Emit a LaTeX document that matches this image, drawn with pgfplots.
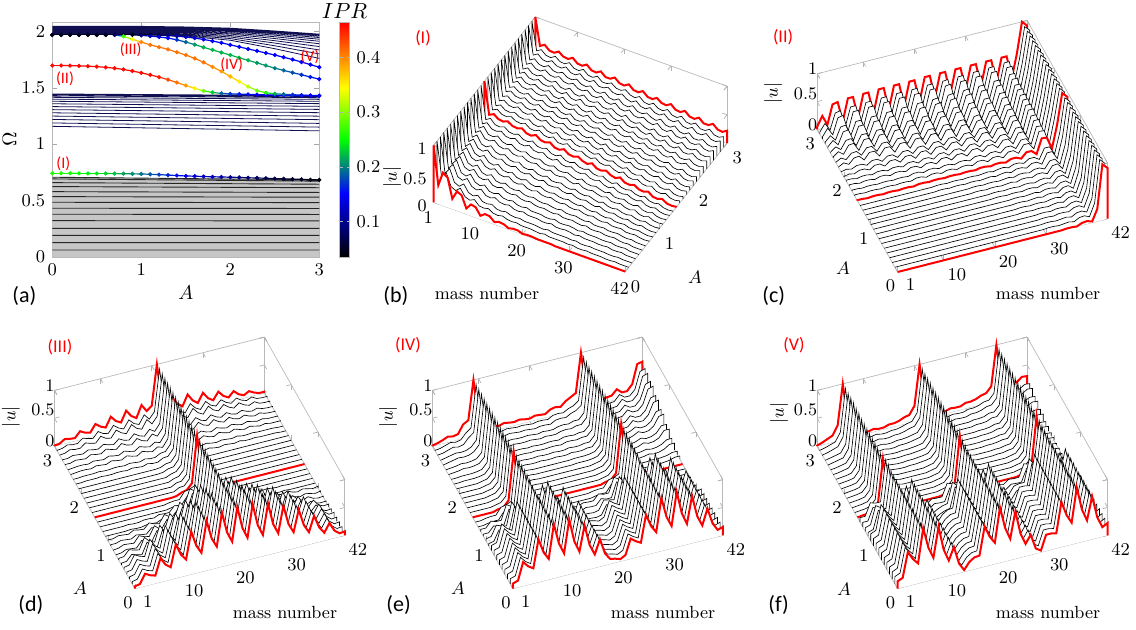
\documentclass[border=0pt]{standalone}
\usepackage{pgfplots}
\usepackage{pgfplotstable}
\pgfplotsset{compat=1.18}
\usepackage{fontspec}
\newfontfamily\carlito{Carlito}
\definecolor{bandnavy}{rgb}{0.06,0.06,0.32}

% ---------- waterfall data: one row per estimated profile s0..s16, |u| in percent, padded with 0 at both ends
\pgfplotstableread[header=false]{
s0 0  100 33 58 52 18 34 30 10 20 18  6 12 11 4 7 6 2 4 4 1  2 2 1 1 1 1 0 0 0 0  0 0 0 0 0 0 0 0 0 0 0 0  0
s1 0  100 39 50 29 25 32 20 17 21 13  12 14 9 8 10 7 6 7 5 5  5 4 3 5 3 3 3 3 2 3  1 1 2 1 1 1 0 0 1 0 0 0  0
s2 0  100 40 50 31 28 34 23 20 24 16  15 18 13 12 14 10 9 11 8 8  8 6 6 8 5 5 6 5 3 5  3 3 3 2 2 3 1 1 2 0 0 0  0
s3 0  100 40 49 33 30 35 25 23 27 19  18 21 16 15 17 13 12 14 11 10  11 9 8 10 7 7 8 6 5 7  4 4 5 3 3 4 2 1 2 0 0 0  0
s4 0  100 41 49 35 32 37 28 26 30 23  22 25 19 18 21 16 15 18 14 13  15 12 11 13 10 9 11 8 7 9  6 5 7 4 4 5 2 2 3 1 0 1  0
s5 0  100 42 49 36 34 39 31 29 32 26  25 28 22 21 24 19 18 21 16 16  18 14 13 16 12 11 13 10 8 11  7 6 8 5 4 6 3 2 4 1 0 1  0
s6 0  100 43 49 38 37 41 34 32 35 29  28 31 26 25 27 22 21 24 19 19  21 17 15 19 14 13 15 12 10 13  8 8 10 6 5 8 3 2 5 1 0 1  0
s7 0  100 43 48 40 39 42 36 35 38 32  31 35 29 28 31 25 24 28 22 21  24 19 18 21 16 15 18 13 11 15  10 9 11 7 6 9 4 3 5 1 0 1  0
s8 0  100 44 48 42 41 44 39 38 41 35  34 38 32 31 34 28 27 31 25 24  27 22 20 24 18 17 20 15 13 17  11 10 13 8 7 10 4 3 6 1 0 1  0
s9 0  100 45 49 43 42 45 40 39 42 36  35 39 33 32 36 29 29 33 27 26  29 24 22 26 20 19 22 17 15 19  13 12 15 10 9 12 6 5 8 3 2 4  0
s10 0  100 46 50 44 43 47 41 40 44 38  37 41 35 34 37 31 30 34 28 27  31 25 23 28 21 20 24 19 17 21  15 14 17 12 11 14 8 7 11 5 4 6  0
s11 0  100 47 51 45 44 48 42 41 45 39  38 42 36 35 39 32 32 36 30 29  32 27 25 29 23 22 26 20 19 23  17 16 19 14 13 16 10 9 13 7 6 9  0
s12 0  100 48 53 46 45 49 44 43 47 40  39 44 37 36 40 34 33 38 31 30  34 28 27 31 25 24 28 22 21 25  19 18 22 16 15 19 12 12 16 10 9 12  0
s13 0  100 49 54 47 46 50 45 44 48 41  40 45 38 37 42 35 35 39 33 32  36 30 28 33 26 25 29 24 22 27  20 19 24 17 16 21 14 14 18 12 11 14  0
s14 0  100 50 55 48 47 52 46 45 49 43  42 46 40 39 43 36 36 41 34 33  38 31 30 35 28 27 31 26 24 29  22 21 26 19 18 23 16 16 20 14 13 17  0
s15 0  100 51 56 49 48 53 47 46 51 44  43 48 41 40 45 38 38 42 36 35  39 33 31 36 29 28 33 27 26 31  24 23 28 21 20 25 18 18 23 16 15 19  0
s16 0  100 52 57 50 49 54 48 47 52 45  44 49 42 41 46 39 39 44 37 36  41 34 33 38 31 30 35 29 28 33  26 25 30 23 22 27 20 20 25 18 17 22  0
}\rawB
\pgfplotstableread[header=false]{
s0 0  0 0 0 0 0 0 0 0 0 0  0 0 0 0 0 0 0 0 0 0  0 0 0 0 0 0 0 0 0 0  0 0 0 1 1 0 4 5 2 22 100 91  0
s1 0  0 0 0 0 0 0 0 0 0 0  0 0 0 0 0 0 0 0 0 0  0 0 0 0 0 0 0 0 0 0  1 1 0 1 2 0 5 6 2 24 100 91  0
s2 0  0 0 0 0 0 0 0 0 0 0  0 0 0 0 0 0 0 0 0 0  0 0 0 0 0 0 0 0 0 0  1 1 0 2 2 1 6 7 2 25 100 91  0
s3 0  0 0 0 0 0 0 0 0 0 0  0 0 0 0 0 0 0 0 0 0  0 0 0 0 0 0 0 1 1 0  1 1 0 2 3 1 7 8 2 27 100 91  0
s4 0  0 0 0 0 0 0 0 0 0 0  0 0 0 0 0 0 0 0 0 0  0 0 0 0 0 0 0 1 1 0  1 2 0 3 3 1 8 9 2 29 100 91  0
s5 0  0 0 0 0 0 0 0 0 0 0  0 0 0 0 0 0 0 0 0 0  0 0 0 0 1 1 0 1 1 0  2 2 0 3 4 1 10 11 3 32 100 91  0
s6 0  0 0 0 0 0 0 0 0 0 0  0 0 0 0 0 0 0 0 0 0  0 1 1 0 1 1 0 1 2 0  3 3 1 5 5 1 13 14 3 35 100 91  0
s7 0  0 0 0 0 0 0 0 0 0 0  0 0 0 0 0 1 1 0 1 1  0 1 1 0 1 2 0 2 3 0  4 4 1 7 7 1 19 19 4 40 100 91  0
s8 0  1 1 0 1 1 0 1 1 0 1  1 0 2 2 1 2 2 1 2 2  1 2 2 1 3 3 1 3 3 1  5 5 1 10 10 2 28 27 5 45 100 91  0
s9 0  2 2 1 2 2 1 2 2 1 2  2 1 4 4 1 4 4 1 4 4  1 4 4 1 6 6 1 6 6 1  9 9 2 15 15 3 32 31 5 48 100 91  0
s10 0  3 3 1 3 3 1 4 4 1 4  4 1 6 6 1 6 6 1 8 8  1 8 8 1 10 10 2 10 10 2  13 13 2 19 19 3 34 34 5 48 100 91  0
s11 0  1 3 1 5 5 1 7 7 1 8  8 1 9 9 1 10 10 1 11 11  2 12 12 2 13 13 2 15 15 2  17 17 2 23 23 3 36 36 5 48 100 91  0
s12 0  1 6 1 10 11 2 13 13 2 14  14 2 15 15 2 16 16 2 17 17  2 18 18 2 19 19 2 20 21 2  22 22 3 26 26 3 37 37 5 47 100 91  0
s13 0  2 9 2 16 17 2 19 19 2 20  20 2 21 21 2 22 22 3 23 23  3 24 24 3 25 25 3 26 26 3  27 27 3 30 30 3 38 38 4 46 100 91  0
s14 0  3 12 2 23 24 3 26 26 3 27  27 3 28 28 3 29 29 3 30 30  3 30 31 3 31 32 3 32 33 3  33 33 3 35 35 3 40 40 4 46 100 91  0
s15 0  4 17 3 31 33 3 35 35 3 36  36 3 37 37 3 38 38 3 38 38  3 39 39 3 39 40 3 40 40 3  41 41 3 42 42 3 44 44 3 45 100 91  0
s16 0  5 22 4 38 40 3 42 42 3 43  43 3 44 44 3 44 44 3 44 44  3 45 45 3 45 45 3 45 45 3  45 45 3 45 45 3 45 45 3 45 100 91  0
}\rawC
\pgfplotstableread[header=false]{
s0 0  4 6 22 17 14 43 29 22 61 40  29 77 49 34 89 55 38 97 59 40  100 60 40 98 58 38 92 53 34 81  46 29 67 37 22 49 26 14 29 13 6 7  0
s1 0  4 6 22 17 14 43 29 22 61 40  29 77 49 34 89 55 38 97 59 40  100 60 40 98 58 38 92 53 34 81  46 29 67 37 22 49 26 14 29 13 6 7  0
s2 0  4 6 22 17 14 43 29 22 61 40  29 77 49 34 89 55 38 97 59 40  100 60 40 98 58 38 92 53 34 81  46 29 67 37 22 49 26 14 29 13 6 7  0
s3 0  3 4 14 11 9 29 20 16 44 29  22 59 39 28 74 47 34 88 55 39  100 58 38 89 51 33 76 43 27 62  35 21 48 26 15 33 17 9 19 8 4 5  0
s4 0  1 2 6 5 4 15 11 9 26 18  14 41 28 21 58 39 29 78 51 37  100 56 35 79 44 27 60 32 19 43  23 13 28 15 8 17 8 4 8 3 1 2  0
s5 0  2 2 5 4 3 8 6 5 14 10  8 22 16 12 37 26 21 61 43 34  100 51 29 61 31 17 37 19 11 22  11 6 14 7 4 8 4 2 5 3 1 3  0
s6 0  0 0 0 0 0 1 0 0 2 2  1 5 4 4 14 11 11 37 31 29  100 43 21 37 16 8 14 6 3 5  2 1 2 1 0 1 0 0 0 0 0 0  0
s7 0  0 0 0 0 0 0 0 0 0 0  0 0 0 0 2 3 3 15 17 21  100 32 11 15 5 2 2 0 0 0  0 0 0 0 0 0 0 0 0 0 0 0  0
s8 0  0 0 0 0 0 0 0 0 0 0  0 0 0 0 0 0 1 5 7 17  100 24 8 5 2 1 1 0 0 0  0 0 0 0 0 0 0 0 0 0 0 0  0
s9 0  0 0 0 0 0 0 0 0 0 0  0 0 0 0 0 0 0 5 6 16  100 23 7 5 1 0 0 0 0 0  0 0 0 0 0 0 0 0 0 0 0 0  0
s10 0  0 0 0 0 0 0 0 0 0 0  0 0 0 0 0 0 0 4 6 16  100 23 7 5 1 0 0 0 0 0  0 0 0 0 0 0 0 0 0 0 0 0  0
s11 0  0 0 0 0 0 0 0 0 0 0  0 0 0 0 0 0 1 5 6 17  100 24 8 6 2 0 0 0 0 0  0 0 0 0 0 0 0 0 0 0 0 0  0
s12 0  0 0 1 1 1 2 1 1 2 2  1 3 2 1 4 2 2 7 8 19  100 26 9 8 3 2 4 2 1 3  2 1 3 1 1 2 1 1 1 1 0 0  0
s13 0  0 1 2 2 1 4 3 2 6 4  3 8 5 3 9 6 4 10 7 20  100 25 8 10 6 4 9 5 3 8  5 3 7 4 2 5 3 1 3 1 1 1  0
s14 0  1 1 4 3 2 7 5 4 10 7  5 13 8 6 15 9 6 16 10 22  100 26 9 17 10 6 16 9 6 14  8 5 11 6 4 8 4 2 5 2 1 1  0
s15 0  1 2 6 4 4 11 8 6 16 10  8 20 13 9 23 14 10 25 15 26  100 28 10 25 15 10 24 14 9 21  12 8 17 10 6 13 7 4 8 3 2 2  0
s16 0  1 2 8 6 5 15 10 8 21 14  10 27 17 12 31 19 13 34 21 28  100 30 14 34 20 13 32 19 12 28  16 10 23 13 8 17 9 5 10 5 2 2  0
}\rawD
\pgfplotstableread[header=false]{
s0 0  9 12 43 33 27 77 51 37 97 60  40 98 57 36 81 43 24 49 21 9  7 4 9 36 29 24 72 49 36 95  59 40 99 58 37 85 46 27 55 26 12 15  0
s1 0  9 12 43 33 27 77 51 37 97 60  40 98 57 36 81 43 24 49 21 9  7 4 9 36 29 24 72 49 36 95  59 40 99 58 37 85 46 27 55 26 12 15  0
s2 0  9 12 43 33 27 77 51 37 97 60  40 98 57 36 81 43 24 49 21 9  7 4 9 36 29 24 72 49 36 95  59 40 99 58 37 85 46 27 55 26 12 15  0
s3 0  9 12 43 33 27 77 51 37 97 60  40 98 57 36 81 43 24 49 21 9  7 4 9 36 29 24 72 49 36 95  59 40 99 58 37 85 46 27 55 26 12 15  0
s4 0  9 12 43 33 27 77 51 37 97 60  40 98 57 36 81 43 24 49 21 9  7 4 9 36 29 24 72 49 36 95  59 40 99 58 37 85 46 27 55 26 12 15  0
s5 0  4 6 24 20 18 59 43 34 100 56  34 75 39 23 46 22 11 21 8 3  3 2 4 20 18 16 55 41 34 98  55 34 75 40 23 48 24 12 23 10 4 5  0
s6 0  4 4 14 11 11 37 31 29 100 43  21 37 16 8 14 6 3 5 2 1  5 4 4 14 11 11 37 31 29 100  43 21 37 16 8 14 6 3 5 2 1 2  0
s7 0  0 0 2 3 3 15 17 21 100 32  11 15 5 2 2 0 0 0 0 0  0 0 0 2 3 3 15 17 21 100  32 11 15 5 2 2 0 0 0 0 0 0  0
s8 0  0 0 0 0 0 3 4 14 100 30  12 12 4 2 2 0 0 0 0 0  0 0 0 0 0 0 3 4 14 100  30 12 12 4 2 2 0 0 0 0 0 0  0
s9 0  0 0 0 0 0 2 4 13 100 28  11 10 3 1 1 0 0 0 0 0  0 0 0 0 0 0 2 4 13 100  28 11 10 3 1 1 2 1 2 3 6 6  0
s10 0  0 0 0 0 0 2 4 13 100 26  10 9 3 1 1 0 0 0 0 0  0 0 0 0 0 0 2 4 13 100  26 10 9 3 1 2 4 2 3 6 12 12  0
s11 0  0 0 0 0 0 2 4 13 100 26  10 9 3 1 1 0 0 0 0 0  0 0 0 1 1 1 2 4 13 100  26 10 9 3 1 3 7 4 5 9 20 20  0
s12 0  0 0 1 1 1 2 4 14 100 27  11 10 3 1 2 1 1 2 1 1  2 1 1 3 2 2 4 4 14 100  27 11 10 3 2 5 10 6 7 13 28 30  0
s13 0  0 1 2 4 3 4 6 15 100 29  11 10 4 2 3 3 2 3 2 2  3 3 2 5 5 4 6 6 15 100  29 11 10 4 3 4 13 8 8 16 36 38  0
s14 0  0 2 4 6 5 6 10 20 100 30  10 10 5 4 5 4 4 5 4 3  5 4 4 7 8 7 10 10 20 100  30 10 10 4 5 6 15 9 9 18 43 46  0
s15 0  1 2 5 8 6 8 18 25 100 30  10 11 6 5 7 6 5 6 5 4  6 6 5 10 11 10 15 18 25 100  30 11 11 5 6 7 17 10 10 19 49 52  0
s16 0  1 3 6 10 8 10 25 30 100 30  10 12 8 6 9 7 6 8 6 5  8 7 6 12 14 12 20 25 30 100  30 12 12 6 8 9 18 10 10 20 54 56  0
}\rawE
\pgfplotstableread[header=false]{
s0 0  13 17 61 46 36 97 60 39 92 49  27 49 17 3 15 21 22 72 51 38  99 60 38 85 43 22 36 9 3 29  29 27 81 55 39 100 58 36 77 37 17 22  0
s1 0  13 17 61 46 36 97 60 39 92 49  27 49 17 3 15 21 22 72 51 38  99 60 38 85 43 22 36 9 3 29  29 27 81 55 39 100 58 36 77 37 17 22  0
s2 0  13 17 61 46 36 97 60 39 92 49  27 49 17 3 15 21 22 72 51 38  99 60 38 85 43 22 36 9 3 29  29 27 81 55 39 100 58 36 77 37 17 22  0
s3 0  13 17 61 46 36 97 60 39 92 49  27 49 17 3 15 21 22 72 51 38  99 60 38 85 43 22 36 9 3 29  29 27 81 55 39 100 58 36 77 37 17 22  0
s4 0  13 17 61 46 36 97 60 39 92 49  27 49 17 3 15 21 22 72 51 38  99 60 38 85 43 22 36 9 3 29  29 27 81 55 39 100 58 36 77 37 17 22  0
s5 0  13 17 61 46 36 97 60 39 92 49  27 49 17 3 15 21 22 72 51 38  99 60 38 85 43 22 36 9 3 29  29 27 81 55 39 100 58 36 77 37 17 22  0
s6 0  7 10 42 36 32 97 53 30 63 30  14 23 7 1 7 11 13 49 40 34  99 53 30 58 26 12 17 4 1 14  16 16 56 43 34 100 51 28 53 22 9 10  0
s7 0  8 8 30 27 27 100 40 18 30 12  5 9 4 2 9 8 8 30 27 27  100 40 18 30 12 5 9 4 2 9  8 8 30 27 27 100 40 18 30 12 5 9  0
s8 0  0 1 2 4 14 94 30 12 12 4  2 0 0 0 0 0 0 2 4 14  100 30 12 12 4 2 0 0 0 0  0 0 2 4 14 100 30 12 12 4 2 1  0
s9 0  0 1 2 4 14 95 30 12 12 4  2 0 0 0 0 0 0 2 4 14  100 30 12 12 4 2 0 0 0 0  0 0 2 4 14 100 30 12 12 4 3 2  0
s10 0  0 1 2 4 14 96 30 12 12 4  2 0 0 0 0 0 0 2 4 14  100 30 12 12 4 2 0 0 0 0  0 0 2 4 14 100 30 12 12 5 4 3  0
s11 0  0 1 2 4 14 96 30 12 12 4  2 0 0 0 0 0 0 2 4 14  100 30 12 12 4 2 0 0 0 0  1 1 3 4 14 100 30 12 12 6 6 5  0
s12 0  0 1 2 4 15 96 30 12 12 4  2 1 0 0 1 1 2 3 5 15  100 30 12 12 4 2 1 1 1 2  2 3 5 5 15 100 30 12 12 8 9 8  0
s13 0  0 1 3 5 17 98 30 12 11 4  2 2 1 1 2 2 3 4 6 17  100 30 12 11 4 2 2 2 2 3  3 4 7 7 17 100 30 13 13 12 14 13  0
s14 0  0 2 4 6 20 100 30 12 11 4  2 3 1 1 3 3 4 6 8 20  100 30 12 11 4 2 3 3 3 5  5 6 10 10 20 100 30 14 14 16 20 19  0
s15 0  1 3 6 9 24 100 30 12 10 4  2 4 2 2 4 4 6 9 11 24  100 30 12 10 4 3 5 4 4 7  7 9 13 14 24 100 30 15 16 20 26 25  0
s16 0  1 4 8 12 28 100 30 12 10 4  3 5 3 3 6 6 8 12 14 28  100 30 12 10 5 4 7 6 6 10  10 12 16 18 28 100 30 16 18 24 31 30  0
}\rawF
\pgfplotstabletranspose[colnames from=0]{\TB}{\rawB}
\pgfplotstabletranspose[colnames from=0]{\TC}{\rawC}
\pgfplotstabletranspose[colnames from=0]{\TD}{\rawD}
\pgfplotstabletranspose[colnames from=0]{\TE}{\rawE}
\pgfplotstabletranspose[colnames from=0]{\TF}{\rawF}

% ---------- panel (a) data
\pgfplotstableread{
A W P
0 .742 .26
.1 .742 .26
.2 .742 .255
.3 .741 .25
.4 .741 .245
.5 .740 .24
.6 .740 .235
.7 .739 .225
.8 .738 .215
.9 .737 .205
1 .736 .195
1.1 .733 .185
1.2 .730 .175
1.3 .726 .165
1.4 .722 .155
1.5 .718 .145
1.6 .716 .135
1.7 .713 .125
1.8 .711 .118
1.9 .709 .11
2 .707 .10
2.1 .705 .092
2.2 .702 .085
2.3 .700 .078
2.4 .698 .072
2.5 .695 .066
2.6 .693 .06
2.7 .690 .055
2.8 .688 .05
2.9 .685 .046
3 .683 .042
}\tI
\pgfplotstableread{
A W P
0 1.697 .46
.1 1.697 .46
.2 1.696 .46
.3 1.694 .46
.4 1.691 .46
.5 1.687 .46
.6 1.681 .46
.7 1.673 .46
.8 1.662 .46
.9 1.648 .46
1 1.632 .46
1.1 1.614 .46
1.2 1.594 .45
1.3 1.572 .43
1.4 1.546 .41
1.5 1.520 .39
1.6 1.495 .35
1.7 1.472 .29
1.8 1.458 .23
1.9 1.450 .19
2 1.446 .17
2.1 1.443 .16
2.2 1.441 .155
2.3 1.439 .15
2.4 1.437 .15
2.5 1.435 .15
2.6 1.433 .15
2.7 1.432 .148
2.8 1.431 .146
2.9 1.430 .145
3 1.428 .145
}\tII
\pgfplotstableread{
A W P
0 1.969 .05
.1 1.969 .05
.2 1.969 .05
.3 1.969 .05
.4 1.969 .05
.5 1.969 .05
.6 1.969 .05
.7 1.969 .08
.8 1.955 .27
.9 1.930 .34
1 1.905 .40
1.1 1.880 .41
1.2 1.860 .41
1.3 1.840 .41
1.4 1.815 .41
1.5 1.790 .41
1.6 1.760 .41
1.7 1.725 .41
1.8 1.685 .40
1.9 1.645 .39
2 1.600 .38
2.1 1.555 .35
2.2 1.510 .32
2.3 1.475 .29
2.4 1.455 .26
2.5 1.447 .22
2.6 1.442 .19
2.7 1.438 .17
2.8 1.435 .16
2.9 1.432 .15
3 1.430 .15
}\tIII
\pgfplotstableread{
A W P
0 1.969 .05
.1 1.969 .05
.2 1.969 .05
.3 1.969 .05
.4 1.969 .05
.5 1.969 .05
.6 1.969 .05
.7 1.969 .05
.8 1.969 .05
.9 1.969 .05
1 1.964 .09
1.1 1.958 .12
1.2 1.950 .14
1.3 1.940 .15
1.4 1.925 .17
1.5 1.905 .19
1.6 1.882 .21
1.7 1.858 .22
1.8 1.835 .22
1.9 1.812 .22
2 1.790 .22
2.1 1.766 .22
2.2 1.743 .22
2.3 1.720 .21
2.4 1.697 .21
2.5 1.673 .20
2.6 1.654 .19
2.7 1.634 .18
2.8 1.615 .17
2.9 1.595 .16
3 1.576 .15
}\tIV
\pgfplotstableread{
A W P
0 1.969 .05
.1 1.969 .05
.2 1.969 .05
.3 1.969 .05
.4 1.969 .05
.5 1.969 .05
.6 1.969 .05
.7 1.969 .05
.8 1.969 .05
.9 1.969 .05
1 1.969 .05
1.1 1.969 .05
1.2 1.966 .07
1.3 1.962 .09
1.4 1.957 .11
1.5 1.950 .12
1.6 1.940 .13
1.7 1.928 .14
1.8 1.914 .14
1.9 1.898 .15
2 1.880 .15
2.1 1.862 .15
2.2 1.844 .15
2.3 1.826 .15
2.4 1.808 .15
2.5 1.790 .15
2.6 1.770 .15
2.7 1.750 .15
2.8 1.728 .15
2.9 1.705 .15
3 1.682 .15
}\tV
% band lines (nan separates lines)
\pgfplotstableread{
A W
0 .707
3 .683
nan nan
0 .692
3 .672
nan nan
0 .659
3 .645
nan nan
0 .624
3 .614
nan nan
0 .579
3 .572
nan nan
0 .535
3 .530
nan nan
0 .485
3 .482
nan nan
0 .432
3 .430
nan nan
0 .379
3 .377
nan nan
0 .322
3 .320
nan nan
0 .254
3 .253
nan nan
0 .192
3 .191
nan nan
0 .127
3 .127
nan nan
0 .062
3 .062
}\tLow
\pgfplotstableread{
A W
0 1.445
3 1.430
nan nan
0 1.438
3 1.422
nan nan
0 1.428
3 1.412
nan nan
0 1.415
3 1.397
nan nan
0 1.399
3 1.380
nan nan
0 1.380
3 1.359
nan nan
0 1.358
3 1.335
nan nan
0 1.333
3 1.308
nan nan
0 1.306
3 1.279
nan nan
0 1.278
3 1.248
nan nan
0 1.249
3 1.217
nan nan
0 1.219
3 1.184
nan nan
0 1.188
3 1.151
nan nan
0 1.158
3 1.118
}\tMid
\pgfplotstableread{
A W
0 2.045
1 2.044
1.5 2.039
2 2.028
2.5 2.003
3 1.975
nan nan
0 2.040
1 2.039
1.5 2.034
2 2.022
2.5 1.997
3 1.968
nan nan
0 2.034
1 2.032
1.5 2.028
2 2.015
2.5 1.988
3 1.958
nan nan
0 2.027
1 2.025
1.5 2.020
2 2.007
2.5 1.978
3 1.945
nan nan
0 2.020
1 2.018
1.5 2.013
2 1.998
2.5 1.966
3 1.930
nan nan
0 2.012
1 2.010
1.5 2.004
2 1.987
2.5 1.952
3 1.912
nan nan
0 2.004
1 2.002
1.5 1.995
2 1.976
2.5 1.936
3 1.890
nan nan
0 1.996
1 1.993
1.5 1.986
2 1.963
2.5 1.917
3 1.865
nan nan
0 1.988
1 1.985
1.5 1.976
2 1.950
2.5 1.896
3 1.835
nan nan
0 1.981
1 1.977
1.5 1.967
2 1.936
2.5 1.872
3 1.800
nan nan
0 1.975
1 1.971
1.5 1.958
2 1.921
2.5 1.846
3 1.760
}\tTop

\pgfplotsset{
 wf/.style={draw=black, line width=0.32pt, fill=white, mark=none},
 wfr0/.style={draw=red, line width=1pt},
 wfr15/.style={draw=red, line width=1pt},
 wfr30/.style={draw=red, line width=1pt},
 wfaxis/.style={
   xmin=1,xmax=42,ymin=0,ymax=3,zmin=0,zmax=100,
   xtick={1,10,20,30,42}, ytick={0,1,2,3}, ztick={0,50,100}, zticklabels={0,0.5,1},
   anchor=origin, clip=false,
   axis line style={gray!55, line width=0.35pt},
   tick style={gray!60, line width=0.35pt},
   major tick length=2.5pt,
   ticklabel style={font=\fontsize{8.8}{10}\selectfont},
 },
 vcd/.style={x={(2.56pt,0.65pt)}, y={(-13.4pt,23.75pt)}, z={(0pt,0.2785pt)},
   xticklabel style={xshift=4.5pt, yshift=1pt},
   yticklabel style={xshift=2pt},
   zticklabel style={xshift=3.5pt}},
 curve/.style={mesh, point meta=explicit, line width=0.6pt, mark=none},
 dots/.style={scatter, only marks, mark=*, mark size=0.85pt, point meta=explicit,
   scatter/use mapped color={draw=mapped color, fill=mapped color}},
}
% one slice: #1 table, #2 slice number k (A = 0.1 k), #3 estimated profile used for it
\newcommand\wfslice[3]{%
  \addplot3[wf, wfr#2/.try] table[x expr={min(max(\coordindex,1),42)}, y expr={#2*0.1}, z=s#3] {#1};}
\newcommand\wfall[1]{%
\wfslice{#1}{30}{16}\wfslice{#1}{29}{15}\wfslice{#1}{28}{15}\wfslice{#1}{27}{14}\wfslice{#1}{26}{14}%
\wfslice{#1}{25}{13}\wfslice{#1}{24}{13}\wfslice{#1}{23}{12}\wfslice{#1}{22}{12}\wfslice{#1}{21}{11}%
\wfslice{#1}{20}{11}\wfslice{#1}{19}{10}\wfslice{#1}{18}{10}\wfslice{#1}{17}{9}\wfslice{#1}{16}{9}%
\wfslice{#1}{15}{8}\wfslice{#1}{14}{7}\wfslice{#1}{13}{7}\wfslice{#1}{12}{6}\wfslice{#1}{11}{6}%
\wfslice{#1}{10}{5}\wfslice{#1}{9}{5}\wfslice{#1}{8}{4}\wfslice{#1}{7}{4}\wfslice{#1}{6}{3}%
\wfslice{#1}{5}{3}\wfslice{#1}{4}{2}\wfslice{#1}{3}{2}\wfslice{#1}{2}{1}\wfslice{#1}{1}{1}%
\wfslice{#1}{0}{0}}

\begin{document}
\begin{tikzpicture}
\useasboundingbox (0,0) rectangle (568pt,-315pt);

% ================= (a)
\begin{axis}[
  at={(26.15pt,-128.5pt)}, anchor=south west,
  scale only axis, width=133.5pt, height=117.35pt,
  xmin=0, xmax=3, ymin=0, ymax=2.08,
  xtick={0,1,2,3}, ytick={0,0.5,1,1.5,2},
  tick align=inside, major tick length=2.5pt,
  axis line style={gray!55}, tick style={gray!70},
  ticklabel style={font=\fontsize{9.5}{11}\selectfont},
  xlabel={$A$}, ylabel={$\Omega$},
  label style={font=\fontsize{10}{12}\selectfont},
  xlabel style={at={(axis description cs:0.5,-0.15)}, anchor=center},
  ylabel style={at={(axis description cs:-0.16,0.5)}, anchor=center},
  colormap={ipr}{rgb255(0pt)=(0,0,0) rgb255(27pt)=(0,0,255) rgb255(50pt)=(0,255,0) rgb255(72pt)=(255,255,0) rgb255(100pt)=(255,0,0)},
  point meta min=0.035, point meta max=0.464,
  colorbar, colorbar shift/.style={xshift=4.5pt},
  colorbar style={width=5pt, ytick={0.1,0.2,0.3,0.4},
    yticklabel style={font=\fontsize{9.5}{11}\selectfont},
    title={$IPR$}, title style={font=\fontsize{10.5}{12}\selectfont, inner sep=0pt, yshift=-4.5pt},
    axis line style={gray!55}, tick style={gray!60}, major tick length=1.5pt},
  unbounded coords=jump,
]
\addplot[fill=gray!45, draw=none] coordinates {(0,0.707) (3,0.683)} \closedcycle;
\addplot[black!85, line width=0.45pt] table[x=A,y=W] {\tLow};
\addplot[bandnavy, line width=0.4pt] table[x=A,y=W] {\tMid};
\addplot[bandnavy, line width=0.4pt] table[x=A,y=W] {\tTop};
\addplot[curve] table[x=A,y=W,meta=P] {\tI};
\addplot[curve] table[x=A,y=W,meta=P] {\tII};
\addplot[curve] table[x=A,y=W,meta=P] {\tV};
\addplot[curve] table[x=A,y=W,meta=P] {\tIV};
\addplot[curve] table[x=A,y=W,meta=P] {\tIII};
\addplot[dots] table[x=A,y=W,meta=P] {\tI};
\addplot[dots] table[x=A,y=W,meta=P] {\tII};
\addplot[dots] table[x=A,y=W,meta=P] {\tV};
\addplot[dots] table[x=A,y=W,meta=P] {\tIV};
\addplot[dots] table[x=A,y=W,meta=P] {\tIII};
\end{axis}

% ================= (b)
\begin{axis}[wfaxis, x={(2.338pt,-0.845pt)}, y={(16.95pt,21.4pt)}, z={(0pt,0.285pt)}, at={(216.81pt,-101.16pt)}]
\wfall{\TB}
\end{axis}
% ================= (c)
\begin{axis}[wfaxis, vcd, at={(448.79pt,-136.0pt)}]
\wfall{\TC}
\end{axis}
% ================= (d)
\begin{axis}[wfaxis, vcd, at={(67.44pt,-294.3pt)}]
\wfall{\TD}
\end{axis}
% ================= (e)
\begin{axis}[wfaxis, vcd, at={(256.44pt,-294.3pt)}]
\wfall{\TE}
\end{axis}
% ================= (f)
\begin{axis}[wfaxis, vcd, at={(448.79pt,-294.3pt)}]
\wfall{\TF}
\end{axis}

% ---------- labels
\begin{scope}[every node/.style={font=\fontsize{8.8}{10}\selectfont, inner sep=0pt}]
\node at (243.5pt,-146.5pt) {mass number};
\node at (524pt,-146.5pt) {mass number};
\node at (142.5pt,-306pt) {mass number};
\node at (331.5pt,-306pt) {mass number};
\node at (524pt,-306pt) {mass number};
\node at (347.5pt,-138.5pt) {$A$};
\node at (421.5pt,-134pt) {$A$};
\node at (40pt,-294pt) {$A$};
\node at (229pt,-294pt) {$A$};
\node at (422pt,-294.5pt) {$A$};
\node[rotate=90] at (196pt,-88.5pt) {$|u|$};
\node[rotate=90] at (386.5pt,-46.5pt) {$|u|$};
\node[rotate=90] at (5.5pt,-208.3pt) {$|u|$};
\node[rotate=90] at (194pt,-208.3pt) {$|u|$};
\node[rotate=90] at (389.5pt,-206.5pt) {$|u|$};
\end{scope}
\begin{scope}[every node/.style={font=\carlito\fontsize{11}{13}\selectfont, inner sep=0pt, anchor=west}]
\node at (6pt,-148pt) {(a)};
\node at (191.5pt,-148pt) {(b)};
\node at (381pt,-148pt) {(c)};
\node at (9pt,-302.5pt) {(d)};
\node at (193pt,-302.5pt) {(e)};
\node at (384pt,-302.5pt) {(f)};
\end{scope}
\begin{scope}[every node/.style={font=\carlito\fontsize{9}{11}\selectfont, text=red, inner sep=0pt}]
\node at (211.5pt,-19pt) {(I)};
\node at (391.5pt,-18.5pt) {(II)};
\node at (30pt,-173.5pt) {(III)};
\node at (204pt,-172.5pt) {(IV)};
\node at (397pt,-172.5pt) {(V)};
\end{scope}
\begin{scope}[every node/.style={font=\carlito\fontsize{8}{10}\selectfont, text=red, inner sep=0pt}]
\node at (31.65pt,-81.65pt) {(I)};
\node at (32.5pt,-39.15pt) {(II)};
\node at (65.35pt,-25pt) {(III)};
\node at (115.85pt,-32.5pt) {(IV)};
\node at (155pt,-28.35pt) {(V)};
\end{scope}
\end{tikzpicture}
\end{document}
